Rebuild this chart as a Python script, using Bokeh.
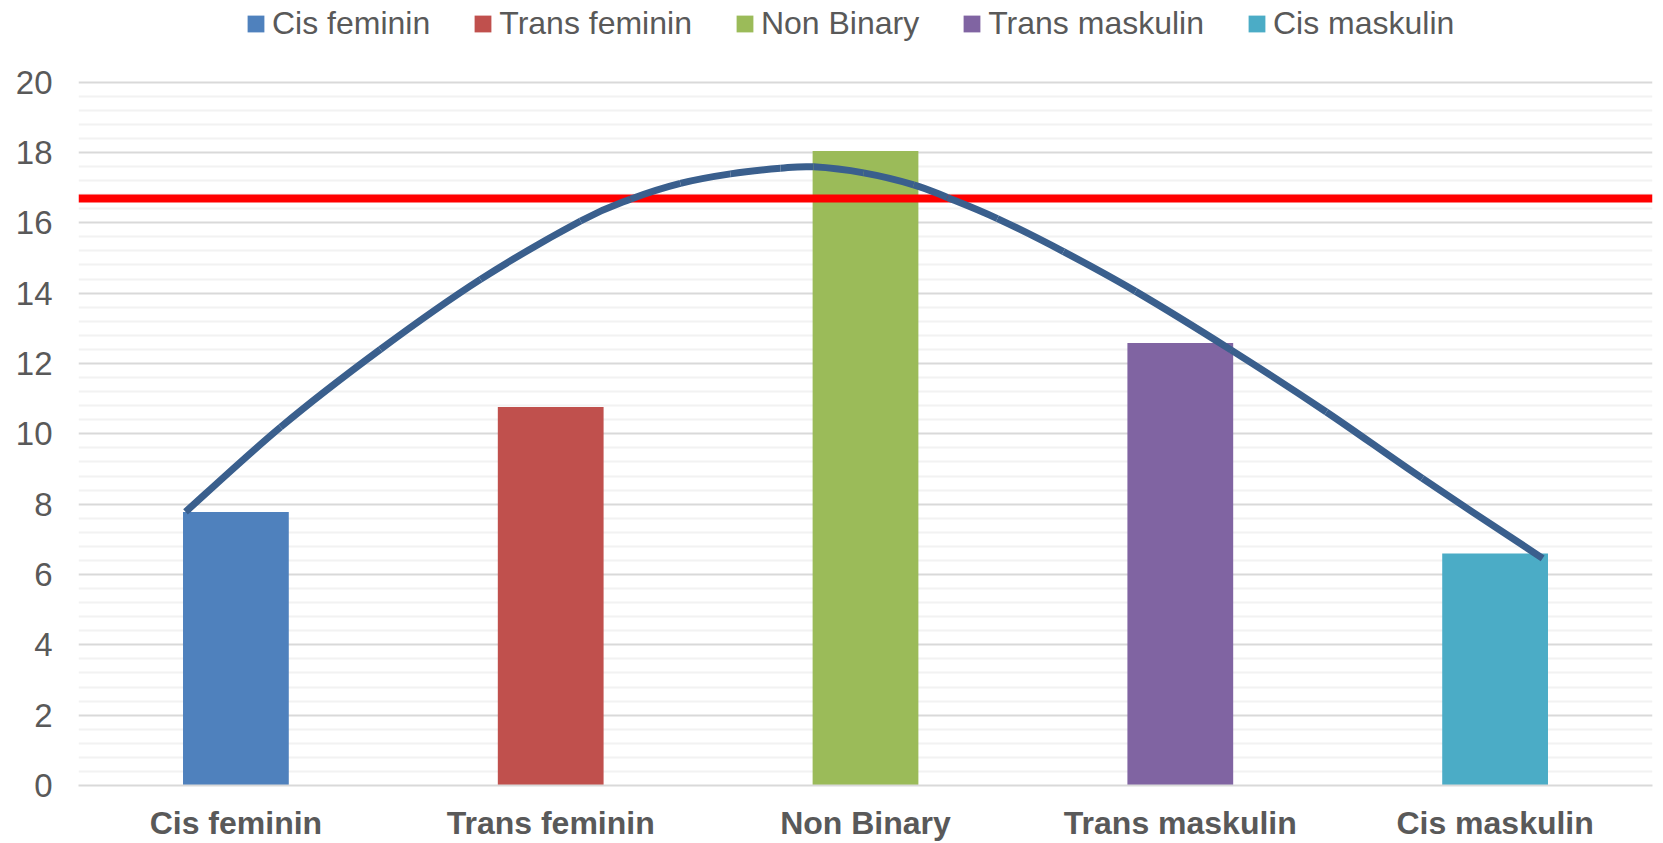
from bokeh.plotting import figure
from bokeh.models import (Range1d, FixedTicker, Legend, LegendItem, ColumnDataSource)
from bokeh.embed import file_html
from bokeh.resources import INLINE

# ---- data ----
categories = ["Cis feminin", "Trans feminin", "Non Binary", "Trans maskulin", "Cis maskulin"]
values = [7.78, 10.76, 18.04, 12.58, 6.60]
colors = ["#4F81BD", "#C0504D", "#9BBB59", "#8064A2", "#4BACC6"]
reference_level = 16.7
y_ticks = [0, 2, 4, 6, 8, 10, 12, 14, 16, 18, 20]
# smoothed curve (x in category units, 0..5)
curve_x = [0.340, 0.642, 0.959, 1.277, 1.595, 1.753, 1.912, 2.071, 2.230, 2.335,
           2.494, 2.653, 2.760, 2.919, 3.129, 3.358, 3.662, 3.964, 4.269, 4.651]
curve_y = [7.78, 10.19, 12.40, 14.39, 16.05, 16.67, 17.12, 17.39, 17.55, 17.59,
           17.42, 17.08, 16.72, 16.12, 15.18, 14.05, 12.38, 10.62, 8.73, 6.46]

FONT = "Liberation Sans"
TXT = "#595959"

positions = [i + 0.5 for i in range(len(categories))]
minor_ticks = [round(t + k * 0.4, 2) for t in y_ticks[:-1] for k in range(1, 5)]

# frame spans the full height; the space above 20 holds the legend
p = figure(width=1663, height=843, output_backend="svg", toolbar_location=None,
           x_range=Range1d(0, 5), y_range=Range1d(0, 22.32),
           min_border_left=78, min_border_right=11, min_border_top=0, min_border_bottom=55)
p.outline_line_color = None
p.background_fill_color = "white"
p.border_fill_color = "white"

src = ColumnDataSource(dict(x=positions, top=values, color=colors, cat=categories))
bars = p.vbar(x="x", top="top", width=0.336, color="color", source=src, line_color=None)

p.hspan(y=[reference_level], line_color="#FF0000", line_width=8)

# smoothed line (like a spreadsheet "smoothed line"): Catmull-Rom segments drawn as Beziers
n = len(curve_x)
pts = list(zip(curve_x, curve_y))
x0, y0, x1, y1, cx0, cy0, cx1, cy1 = [], [], [], [], [], [], [], []
for i in range(n - 1):
    pm = pts[i - 1] if i > 0 else pts[i]
    pa = pts[i]
    pb = pts[i + 1]
    pn = pts[i + 2] if i + 2 < n else pts[i + 1]
    x0.append(pa[0]); y0.append(pa[1]); x1.append(pb[0]); y1.append(pb[1])
    cx0.append(pa[0] + (pb[0] - pm[0]) / 6.0); cy0.append(pa[1] + (pb[1] - pm[1]) / 6.0)
    cx1.append(pb[0] - (pn[0] - pa[0]) / 6.0); cy1.append(pb[1] - (pn[1] - pa[1]) / 6.0)
p.bezier(x0=x0, y0=y0, x1=x1, y1=y1, cx0=cx0, cy0=cy0, cx1=cx1, cy1=cy1,
         line_color="#3A5F8D", line_width=7, line_cap="butt")

# axes
p.yaxis.ticker = FixedTicker(ticks=y_ticks, minor_ticks=minor_ticks)
p.yaxis.axis_line_color = None
p.yaxis.major_tick_line_color = None
p.yaxis.minor_tick_line_color = None
p.yaxis.major_label_standoff = 20
p.yaxis.major_label_text_font = FONT
p.yaxis.major_label_text_font_size = "33px"
p.yaxis.major_label_text_color = TXT

p.xaxis.ticker = FixedTicker(ticks=positions)
p.xaxis.major_label_overrides = {pos: c for pos, c in zip(positions, categories)}
p.xaxis.axis_line_color = "#D9D9D9"
p.xaxis.axis_line_width = 2
p.xaxis.major_tick_line_color = None
p.xaxis.minor_tick_line_color = None
p.xaxis.major_label_standoff = 13
p.xaxis.major_label_text_font = FONT
p.xaxis.major_label_text_font_size = "32px"
p.xaxis.major_label_text_font_style = "bold"
p.xaxis.major_label_text_color = TXT

p.xgrid.grid_line_color = None
p.ygrid.grid_line_color = "#D9D9D9"
p.ygrid.grid_line_width = 2
p.ygrid.minor_grid_line_color = "#F2F2F2"
p.ygrid.minor_grid_line_width = 2

legend = Legend(items=[LegendItem(label=c, renderers=[bars], index=i) for i, c in enumerate(categories)],
                orientation="horizontal", location=(167, 743),
                label_text_font=FONT, label_text_font_size="32px", label_text_color=TXT,
                glyph_width=21, glyph_height=21, label_standoff=6, spacing=42,
                padding=0, margin=0, border_line_color=None, background_fill_alpha=0)
p.add_layout(legend, "center")

open("out.html", "w").write(file_html(p, INLINE))
